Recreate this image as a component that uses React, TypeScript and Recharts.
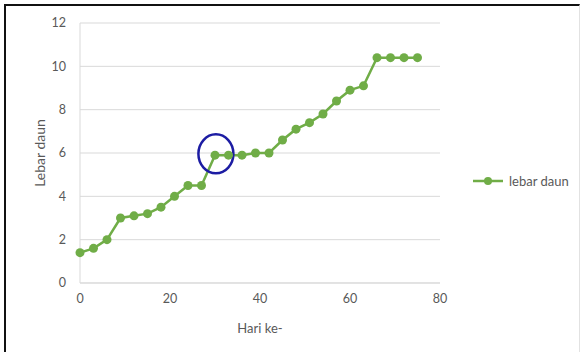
import React from 'react';
import {
  LineChart,
  Line,
  XAxis,
  YAxis,
  CartesianGrid,
  Legend,
  ReferenceDot,
} from 'recharts';

// leaf width measured every 3 days
const days = [0, 3, 6, 9, 12, 15, 18, 21, 24, 27, 30, 33, 36, 39, 42, 45, 48, 51, 54, 57, 60, 63, 66, 69, 72, 75];
const lebarDaun = [1.4, 1.6, 2.0, 3.0, 3.1, 3.2, 3.5, 4.0, 4.5, 4.5, 5.9, 5.9, 5.9, 6.0, 6.0, 6.6, 7.1, 7.4, 7.8, 8.4, 8.9, 9.1, 10.4, 10.4, 10.4, 10.4];

const xTicks = [0, 20, 40, 60, 80];
const yTicks = [0, 2, 4, 6, 8, 10, 12];

// highlighted point (day 30)
const highlight = { day: 30.2, value: 5.96 };

const data = days.map((d, i) => ({ hari: d, lebar: lebarDaun[i] }));

const GREEN = '#70AD47';
const TEXT = '#595959';
const GRID = '#D9D9D9';
const FONT = 'Lato, "Noto Sans", sans-serif';

const LegendContent = (props: any) => {
  const item = props.payload && props.payload[0];
  if (!item) return null;
  return (
    <svg width={108} height={18} style={{ display: 'block' }}>
      <line x1={1} y1={9} x2={31} y2={9} stroke={GREEN} strokeWidth={2.5} />
      <circle cx={16} cy={9} r={4} fill={GREEN} />
      <text x={37} y={13.5} fontSize={13} fill={TEXT} fontFamily={FONT}>
        {item.value}
      </text>
    </svg>
  );
};

const Ring = (props: any) => (
  <ellipse
    cx={props.cx}
    cy={props.cy}
    rx={17.5}
    ry={19.5}
    fill="none"
    stroke="#1C1CA3"
    strokeWidth={2.5}
  />
);

export default function App() {
  return (
    <div style={{ position: 'fixed', left: 0, top: 0, width: 580, height: 352, background: '#fff' }}>
      <div
        style={{
          position: 'absolute',
          left: 4,
          top: 4,
          width: 573,
          height: 346,
          borderTop: '2px solid #111',
          borderLeft: '2px solid #111',
          borderRight: '1px solid #e2e2e2',
        }}
      />
      <div style={{ position: 'absolute', left: 0, top: 0 }}>
        <LineChart width={580} height={352} data={data} margin={{ top: 23, right: 32, left: 0, bottom: 0 }}>
          <CartesianGrid vertical={false} stroke={GRID} />
          <XAxis
            dataKey="hari"
            type="number"
            domain={[0, 80]}
            ticks={xTicks}
            height={69}
            tickSize={0}
            tickMargin={11}
            tickLine={false}
            axisLine={{ stroke: GRID }}
            tick={{ fill: TEXT, fontSize: 12.5, fontFamily: FONT }}
            label={{ value: 'Hari ke-', position: 'insideBottom', offset: 19, fill: TEXT, fontSize: 13, fontFamily: FONT }}
          />
          <YAxis
            type="number"
            domain={[0, 12]}
            ticks={yTicks}
            width={80}
            tickSize={0}
            tickMargin={14}
            tickLine={false}
            axisLine={{ stroke: GRID }}
            tick={{ fill: TEXT, fontSize: 12.5, fontFamily: FONT }}
            label={{
              value: 'Lebar daun',
              angle: -90,
              position: 'insideLeft',
              offset: 40,
              style: { textAnchor: 'middle' },
              fill: TEXT,
              fontSize: 14,
              fontFamily: FONT,
            }}
          />
          <Legend
            layout="vertical"
            align="right"
            verticalAlign="middle"
            content={<LegendContent />}
            wrapperStyle={{ left: 472, top: 172, width: 108 }}
          />
          <Line
            type="linear"
            dataKey="lebar"
            name="lebar daun"
            stroke={GREEN}
            strokeWidth={2.5}
            dot={{ r: 4.5, fill: GREEN, stroke: GREEN, strokeWidth: 0 }}
            activeDot={false}
            isAnimationActive={false}
          />
          <ReferenceDot x={highlight.day} y={highlight.value} shape={<Ring />} ifOverflow="visible" />
        </LineChart>
      </div>
    </div>
  );
}
